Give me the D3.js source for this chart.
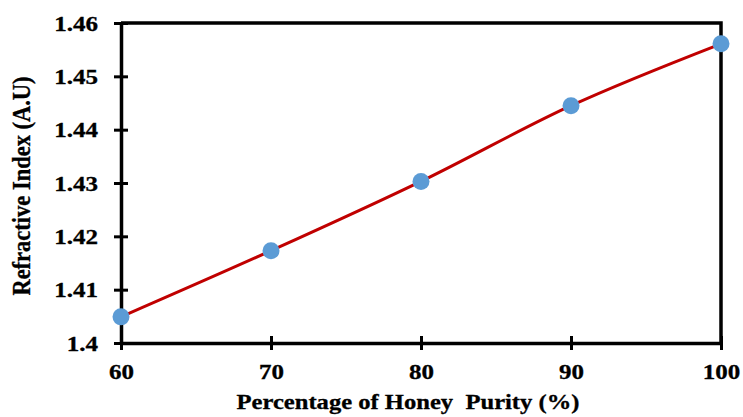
<!DOCTYPE html>
<html>
<head>
<meta charset="utf-8">
<script src="https://cdn.jsdelivr.net/npm/d3@7"></script>
<style>
  body { margin: 0; background: #fff; }
  text { font-family: "Liberation Serif", "Times New Roman", serif; font-weight: bold; fill: #000; stroke: #000; stroke-width: 0.3px; }
</style>
</head>
<body>
<div id="chart"></div>
<script>
// data
var purity = [60, 70, 80, 90, 100]
var refractive = [1.4049, 1.4173, 1.4303, 1.4445, 1.4561]
var xTicks = [60, 70, 80, 90, 100]
var yTicks = [1.40, 1.41, 1.42, 1.43, 1.44, 1.45, 1.46]

var width = 743
var height = 417
var stretch = 1.25 // text in the original is a bit wider than normal

var svg = d3.select("#chart")
  .append("svg")
    .attr("width", width)
    .attr("height", height)

var x = d3.scaleLinear().domain([60, 100]).range([121, 721])
var y = d3.scaleLinear().domain([1.40, 1.46]).range([343, 23])

// frame: top and right lines
svg.append("path")
  .attr("d", "M" + x(60) + "," + y(1.46) + "H" + x(100) + "V" + y(1.40))
  .attr("fill", "none")
  .attr("stroke", "#000")
  .attr("stroke-width", 3.5)

// y axis, ticks cross the line
var yAxis = svg.append("g")
  .attr("transform", "translate(" + x(60) + ",0)")
  .call(d3.axisLeft(y).tickValues(yTicks).tickSize(7).tickSizeOuter(0)
    .tickFormat(function(d){ return String(+d.toFixed(2)) }))
yAxis.selectAll(".tick line").attr("x2", 7).attr("x1", -7)
yAxis.selectAll(".tick text")
  .attr("x", 0).attr("dy", "0.35em")
  .attr("transform", "translate(-23,0) scale(" + stretch + ",1)")
  .style("font-size", "20px")

// x axis
var xAxis = svg.append("g")
  .attr("transform", "translate(0," + y(1.40) + ")")
  .call(d3.axisBottom(x).tickValues(xTicks).tickSize(7).tickSizeOuter(0))
xAxis.selectAll(".tick line").attr("y1", -7).attr("y2", 7)
xAxis.selectAll(".tick text")
  .attr("y", 0).attr("dy", 0)
  .attr("transform", "translate(0,36) scale(" + stretch + ",1)")
  .style("font-size", "20px")

svg.selectAll(".domain").attr("stroke-width", 3.5)
svg.selectAll(".tick line").attr("stroke-width", 3)
svg.selectAll("g").attr("font-family", null).attr("font-size", null)

// axis titles
svg.append("text")
  .attr("transform", "translate(408,409) scale(1.2,1)")
  .attr("text-anchor", "middle")
  .style("font-size", "20.5px")
  .style("white-space", "pre")
  .text("Percentage of Honey  Purity (%)")

svg.append("text")
  .attr("transform", "translate(30,186) scale(1.12,1) rotate(-90)")
  .attr("text-anchor", "middle")
  .style("font-size", "22.5px")
  .text("Refractive Index (A.U)")

// smoothed line
var points = purity.map(function(p, i){ return [p, refractive[i]] })
var line = d3.line()
  .x(function(d){ return x(d[0]) })
  .y(function(d){ return y(d[1]) })
  .curve(d3.curveCatmullRom.alpha(0))

svg.append("path")
  .datum(points)
  .attr("d", line)
  .attr("fill", "none")
  .attr("stroke", "#C00000")
  .attr("stroke-width", 3)

svg.append("g")
  .selectAll("circle")
  .data(points)
  .enter()
  .append("circle")
    .attr("cx", function(d){ return x(d[0]) })
    .attr("cy", function(d){ return y(d[1]) })
    .attr("r", 8.5)
    .style("fill", "#5B9BD5")
</script>
</body>
</html>
